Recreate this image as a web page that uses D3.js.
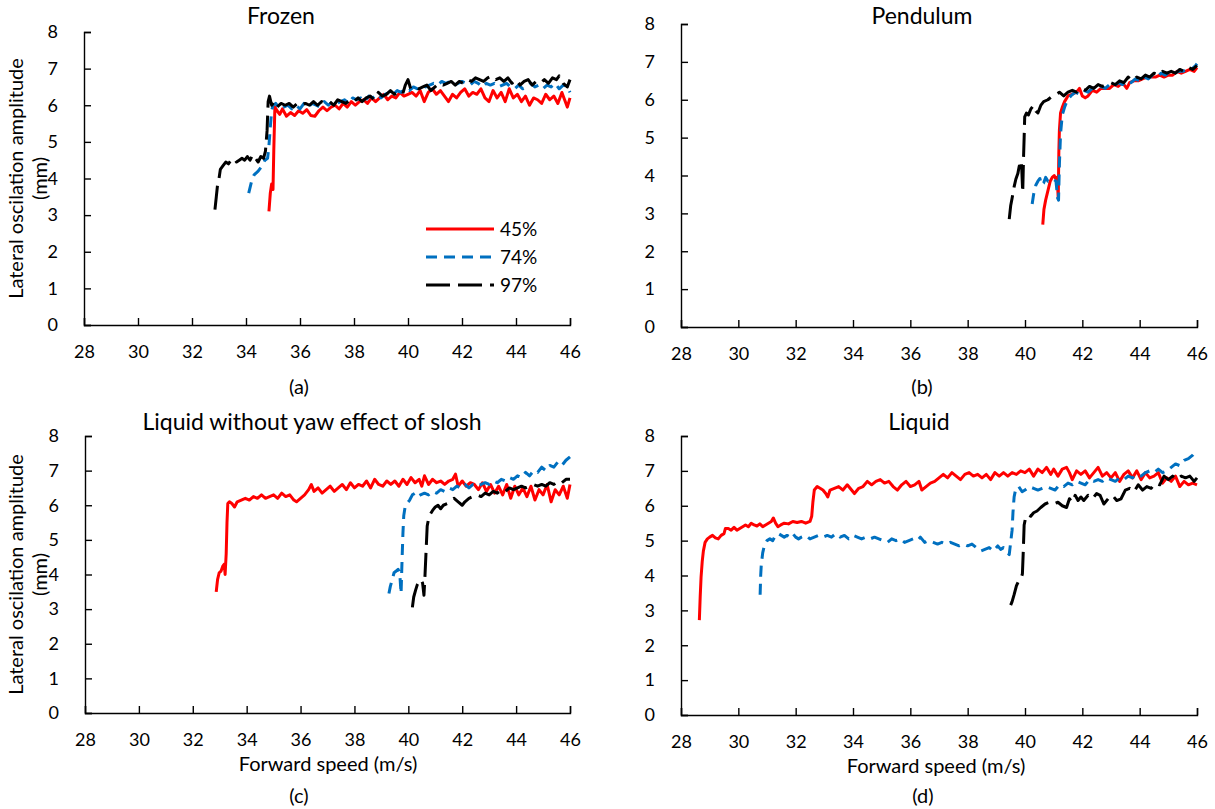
<!DOCTYPE html>
<html>
<head>
<meta charset="utf-8">
<script src="https://cdn.jsdelivr.net/npm/d3@7"></script>
<style>
  html, body { margin: 0; padding: 0; background: #fff; }
  svg { display: block; font-family: Lato, "Open Sans", sans-serif; }
</style>
</head>
<body>
<svg id="chart" width="1215" height="809"></svg>
<script>
// Fill levels shown in every panel
const fillLevels = ["45%", "74%", "97%"];
const seriesColors = ["#FF0000", "#0070C0", "#000000"];
const seriesDash = [null, "11,7", "24,8"];

const xTicks = [28, 30, 32, 34, 36, 38, 40, 42, 44, 46];
const yTicks = [0, 1, 2, 3, 4, 5, 6, 7, 8];

const panelTitles = ["Frozen", "Pendulum", "Liquid without yaw effect of slosh", "Liquid"];
const panelTags = ["(a)", "(b)", "(c)", "(d)"];
const yLabelLines = ["Lateral oscilation amplitude", "(mm)"];
const xLabel = "Forward speed (m/s)";

// [forward speed (m/s), lateral oscillation amplitude (mm)]
const frozen45 = [[34.85,3.10],[34.9,3.6],[34.95,3.85],[35.0,3.7],[35.03,4.8],[35.07,5.95],[35.15,5.85],[35.25,5.75],[35.35,5.9],[35.5,5.7],[35.65,5.8],[35.8,5.72],[35.95,5.85],[36.1,5.78],[36.25,5.88],[36.4,5.72],[36.55,5.7],[36.7,5.85],[36.85,5.95],[37.0,5.85],[37.15,5.95],[37.3,6.0],[37.45,5.9],[37.6,6.05],[37.75,5.95],[37.9,6.1],[38.05,6.0],[38.2,6.1],[38.35,6.15],[38.5,6.05],[38.65,6.2],[38.8,6.1],[38.95,6.2],[39.1,6.3],[39.25,6.15],[39.4,6.25],[39.55,6.2],[39.7,6.35],[39.85,6.25],[40.0,6.3],[40.15,6.35],[40.3,6.25],[40.45,6.4],[40.6,6.1],[40.75,6.35],[40.9,6.45],[41.05,6.3],[41.2,6.4],[41.35,6.25],[41.5,6.1],[41.65,6.3],[41.8,6.2],[41.95,6.35],[42.1,6.45],[42.25,6.25],[42.4,6.35],[42.55,6.3],[42.7,6.45],[42.85,6.2],[43.0,6.1],[43.15,6.4],[43.3,6.2],[43.45,6.35],[43.6,6.1],[43.75,6.45],[43.9,6.2],[44.05,6.3],[44.2,6.1],[44.35,6.25],[44.5,6.0],[44.65,6.2],[44.8,6.15],[44.95,6.05],[45.1,6.3],[45.25,6.15],[45.4,6.25],[45.55,6.05],[45.7,6.35],[45.8,6.15],[45.9,5.95],[46.0,6.2]];
const frozen74 = [[34.1,3.6],[34.2,3.9],[34.3,4.1],[34.45,4.2],[34.6,4.35],[34.7,4.5],[34.8,4.55],[34.85,4.9],[34.9,5.4],[34.95,5.85],[35.0,6.0],[35.1,6.05],[35.25,5.9],[35.4,5.95],[35.55,6.0],[35.7,5.9],[35.85,6.0],[36.0,5.9],[36.15,6.05],[36.3,5.95],[36.45,6.05],[36.6,6.0],[36.75,5.95],[36.9,6.1],[37.05,6.0],[37.2,6.1],[37.35,6.05],[37.5,6.1],[37.65,6.15],[37.8,6.05],[37.95,6.2],[38.1,6.15],[38.25,6.2],[38.4,6.1],[38.55,6.25],[38.7,6.2],[38.85,6.3],[39.0,6.2],[39.15,6.3],[39.3,6.35],[39.45,6.3],[39.6,6.4],[39.75,6.35],[39.9,6.45],[40.05,6.4],[40.2,6.5],[40.35,6.45],[40.5,6.55],[40.65,6.5],[40.8,6.55],[40.95,6.6],[41.1,6.55],[41.25,6.65],[41.4,6.6],[41.55,6.65],[41.7,6.55],[41.85,6.6],[42.0,6.65],[42.15,6.6],[42.3,6.55],[42.45,6.65],[42.6,6.6],[42.75,6.5],[42.9,6.6],[43.05,6.55],[43.2,6.6],[43.35,6.5],[43.5,6.55],[43.65,6.6],[43.8,6.5],[43.95,6.45],[44.1,6.55],[44.25,6.45],[44.4,6.5],[44.55,6.6],[44.7,6.5],[44.85,6.55],[45.0,6.45],[45.15,6.55],[45.3,6.5],[45.45,6.6],[45.6,6.45],[45.75,6.55],[45.9,6.5],[46.0,6.35]];
const frozen97 = [[32.85,3.15],[32.9,3.5],[32.95,3.85],[33.0,4.0],[33.05,4.25],[33.15,4.35],[33.25,4.45],[33.35,4.4],[33.45,4.5],[33.55,4.55],[33.65,4.45],[33.75,4.5],[33.85,4.55],[33.95,4.5],[34.05,4.6],[34.15,4.5],[34.25,4.65],[34.35,4.55],[34.45,4.45],[34.55,4.6],[34.65,4.55],[34.72,4.75],[34.78,5.3],[34.82,6.1],[34.87,6.25],[34.95,6.0],[35.05,6.1],[35.15,5.95],[35.3,6.05],[35.45,6.0],[35.6,6.05],[35.75,5.95],[35.9,6.05],[36.05,6.0],[36.2,6.05],[36.35,6.0],[36.5,6.1],[36.65,6.0],[36.8,6.1],[36.95,6.05],[37.1,6.1],[37.25,6.0],[37.4,6.15],[37.55,6.1],[37.7,6.05],[37.85,6.15],[38.0,6.1],[38.15,6.2],[38.3,6.1],[38.45,6.2],[38.6,6.25],[38.75,6.15],[38.9,6.35],[39.05,6.25],[39.2,6.3],[39.35,6.4],[39.5,6.3],[39.65,6.35],[39.8,6.3],[39.9,6.55],[40.0,6.7],[40.1,6.45],[40.25,6.5],[40.4,6.45],[40.55,6.5],[40.7,6.55],[40.85,6.4],[41.0,6.5],[41.15,6.6],[41.3,6.55],[41.45,6.6],[41.6,6.65],[41.75,6.55],[41.9,6.65],[42.05,6.6],[42.2,6.7],[42.35,6.65],[42.5,6.75],[42.65,6.7],[42.8,6.65],[42.95,6.75],[43.1,6.8],[43.25,6.7],[43.4,6.75],[43.55,6.65],[43.7,6.75],[43.85,6.6],[44.0,6.7],[44.15,6.55],[44.3,6.65],[44.45,6.7],[44.6,6.55],[44.75,6.65],[44.9,6.6],[45.05,6.7],[45.2,6.6],[45.35,6.75],[45.5,6.7],[45.6,6.8],[45.75,6.6],[45.9,6.5],[46.0,6.7]];

const pendulum45 = [[40.62,2.7],[40.66,3.1],[40.72,3.35],[40.8,3.6],[40.88,3.85],[40.95,3.95],[41.02,4.0],[41.08,3.9],[41.12,3.95],[41.16,3.4],[41.18,4.6],[41.2,5.2],[41.24,5.65],[41.3,5.8],[41.38,5.95],[41.5,6.1],[41.65,6.15],[41.8,6.2],[41.9,6.3],[42.0,6.1],[42.1,6.05],[42.2,6.1],[42.35,6.25],[42.5,6.2],[42.65,6.3],[42.8,6.3],[42.95,6.3],[43.1,6.4],[43.25,6.35],[43.4,6.45],[43.55,6.3],[43.65,6.45],[43.8,6.5],[43.95,6.5],[44.1,6.55],[44.25,6.6],[44.4,6.6],[44.55,6.6],[44.7,6.65],[44.85,6.6],[45.0,6.65],[45.15,6.65],[45.3,6.75],[45.45,6.7],[45.6,6.75],[45.75,6.8],[45.9,6.75],[46.0,6.85]];
const pendulum74 = [[40.25,3.25],[40.3,3.5],[40.38,3.75],[40.45,3.85],[40.52,3.92],[40.58,3.75],[40.65,3.8],[40.72,3.95],[40.8,3.85],[40.9,3.9],[41.0,3.9],[41.08,3.85],[41.14,3.4],[41.17,3.35],[41.2,4.3],[41.24,5.1],[41.3,5.6],[41.38,5.8],[41.48,6.0],[41.6,6.1],[41.75,6.2],[41.9,6.15],[42.05,6.25],[42.2,6.2],[42.35,6.3],[42.5,6.3],[42.65,6.35],[42.8,6.3],[42.95,6.4],[43.1,6.35],[43.25,6.45],[43.4,6.4],[43.55,6.5],[43.7,6.45],[43.85,6.55],[44.0,6.5],[44.15,6.6],[44.3,6.55],[44.45,6.65],[44.6,6.6],[44.75,6.7],[44.9,6.65],[45.05,6.75],[45.2,6.7],[45.35,6.75],[45.5,6.75],[45.65,6.8],[45.8,6.8],[45.95,6.9],[46.0,6.95]];
const pendulum97 = [[39.45,2.85],[39.5,3.2],[39.55,3.4],[39.62,3.7],[39.68,3.9],[39.75,4.05],[39.8,4.25],[39.85,4.15],[39.88,4.3],[39.92,3.55],[39.95,4.5],[39.97,5.0],[39.99,5.55],[40.05,5.65],[40.12,5.6],[40.2,5.75],[40.3,5.85],[40.38,5.7],[40.45,5.65],[40.55,5.85],[40.65,5.95],[40.8,6.0],[40.95,6.1],[41.1,6.15],[41.2,6.2],[41.35,6.1],[41.5,6.2],[41.65,6.25],[41.8,6.2],[41.95,6.3],[42.1,6.25],[42.25,6.35],[42.4,6.3],[42.55,6.4],[42.7,6.35],[42.85,6.4],[43.0,6.45],[43.15,6.4],[43.3,6.5],[43.45,6.45],[43.6,6.6],[43.75,6.5],[43.9,6.6],[44.05,6.55],[44.2,6.65],[44.35,6.6],[44.5,6.7],[44.65,6.65],[44.8,6.75],[44.95,6.7],[45.1,6.75],[45.25,6.7],[45.4,6.8],[45.55,6.75],[45.7,6.85],[45.85,6.8],[46.0,6.9]];

const noYaw45 = [[32.87,3.5],[32.92,3.85],[32.98,4.05],[33.05,4.1],[33.12,4.25],[33.17,4.3],[33.2,4.0],[33.24,4.6],[33.27,5.5],[33.3,6.05],[33.36,6.1],[33.45,6.05],[33.55,5.95],[33.65,6.1],[33.8,6.15],[33.95,6.2],[34.1,6.15],[34.25,6.25],[34.4,6.2],[34.55,6.3],[34.7,6.2],[34.85,6.25],[35.0,6.3],[35.15,6.2],[35.3,6.35],[35.45,6.25],[35.6,6.3],[35.75,6.15],[35.85,6.1],[36.0,6.2],[36.15,6.3],[36.3,6.45],[36.4,6.6],[36.5,6.4],[36.65,6.5],[36.8,6.35],[36.95,6.45],[37.1,6.55],[37.25,6.4],[37.4,6.5],[37.55,6.6],[37.7,6.45],[37.85,6.65],[38.0,6.5],[38.15,6.6],[38.3,6.55],[38.45,6.7],[38.6,6.5],[38.75,6.75],[38.9,6.6],[39.05,6.55],[39.2,6.7],[39.35,6.6],[39.5,6.7],[39.65,6.55],[39.8,6.75],[39.95,6.6],[40.1,6.8],[40.25,6.65],[40.4,6.75],[40.5,6.55],[40.6,6.85],[40.75,6.6],[40.9,6.75],[41.05,6.65],[41.2,6.7],[41.35,6.6],[41.5,6.7],[41.65,6.75],[41.75,6.9],[41.85,6.55],[42.0,6.7],[42.15,6.55],[42.3,6.65],[42.45,6.6],[42.6,6.45],[42.75,6.65],[42.9,6.4],[43.05,6.6],[43.2,6.35],[43.35,6.55],[43.5,6.3],[43.65,6.6],[43.8,6.2],[43.95,6.55],[44.1,6.3],[44.25,6.5],[44.4,6.25],[44.55,6.55],[44.7,6.15],[44.85,6.45],[45.0,6.3],[45.15,6.6],[45.3,6.1],[45.45,6.45],[45.6,6.3],[45.75,6.55],[45.9,6.2],[46.0,6.6]];
const noYaw74 = [[39.28,3.45],[39.33,3.65],[39.4,3.85],[39.47,4.05],[39.55,4.1],[39.62,4.15],[39.68,4.05],[39.73,3.45],[39.77,4.5],[39.8,5.2],[39.83,5.7],[39.88,5.95],[39.95,6.05],[40.05,6.15],[40.15,6.3],[40.25,6.35],[40.35,6.25],[40.45,6.3],[40.6,6.35],[40.75,6.3],[40.9,6.4],[41.05,6.35],[41.2,6.45],[41.35,6.4],[41.5,6.5],[41.65,6.45],[41.8,6.55],[41.95,6.5],[42.1,6.6],[42.25,6.5],[42.4,6.6],[42.55,6.55],[42.7,6.6],[42.85,6.65],[43.0,6.6],[43.15,6.7],[43.3,6.65],[43.45,6.75],[43.6,6.7],[43.75,6.8],[43.9,6.75],[44.05,6.85],[44.2,6.8],[44.35,6.95],[44.5,6.85],[44.65,7.0],[44.8,6.95],[44.95,7.1],[45.1,7.0],[45.25,7.15],[45.4,7.1],[45.55,7.25],[45.7,7.15],[45.85,7.3],[46.0,7.4]];
const noYaw97 = [[40.15,3.05],[40.2,3.35],[40.27,3.55],[40.33,3.7],[40.4,3.8],[40.47,3.85],[40.53,3.75],[40.58,3.4],[40.62,4.0],[40.66,4.7],[40.7,5.4],[40.75,5.6],[40.82,5.75],[40.9,5.85],[41.0,5.95],[41.1,6.0],[41.2,5.9],[41.3,6.0],[41.45,6.05],[41.6,6.15],[41.7,6.2],[41.85,6.1],[42.0,6.0],[42.1,6.1],[42.25,6.2],[42.4,6.25],[42.55,6.3],[42.7,6.25],[42.85,6.35],[43.0,6.3],[43.15,6.4],[43.3,6.35],[43.45,6.45],[43.6,6.4],[43.75,6.5],[43.9,6.45],[44.05,6.5],[44.2,6.55],[44.35,6.5],[44.5,6.55],[44.65,6.6],[44.8,6.55],[44.95,6.6],[45.1,6.55],[45.25,6.65],[45.4,6.6],[45.55,6.7],[45.7,6.65],[45.85,6.75],[46.0,6.75]];

const liquid45 = [[28.64,2.72],[28.67,3.4],[28.7,3.95],[28.74,4.4],[28.78,4.7],[28.84,4.95],[28.92,5.05],[29.0,5.1],[29.1,5.15],[29.2,5.08],[29.3,5.05],[29.4,5.15],[29.5,5.2],[29.55,5.35],[29.65,5.35],[29.75,5.3],[29.85,5.38],[29.95,5.3],[30.05,5.35],[30.15,5.4],[30.25,5.45],[30.35,5.4],[30.45,5.5],[30.55,5.45],[30.65,5.42],[30.75,5.48],[30.85,5.4],[30.95,5.45],[31.05,5.5],[31.15,5.55],[31.22,5.65],[31.3,5.5],[31.38,5.4],[31.48,5.45],[31.6,5.5],[31.75,5.48],[31.9,5.55],[32.05,5.52],[32.2,5.55],[32.35,5.5],[32.5,5.55],[32.56,5.7],[32.6,6.1],[32.65,6.45],[32.75,6.55],[32.85,6.5],[32.95,6.45],[33.05,6.35],[33.12,6.25],[33.2,6.45],[33.35,6.5],[33.5,6.55],[33.65,6.45],[33.8,6.6],[33.95,6.45],[34.05,6.35],[34.2,6.5],[34.35,6.55],[34.5,6.7],[34.65,6.6],[34.8,6.7],[34.95,6.75],[35.1,6.65],[35.25,6.7],[35.4,6.55],[35.55,6.45],[35.7,6.6],[35.85,6.7],[36.0,6.55],[36.15,6.6],[36.3,6.7],[36.4,6.45],[36.55,6.55],[36.7,6.65],[36.85,6.7],[37.0,6.8],[37.15,6.9],[37.3,6.8],[37.45,6.95],[37.6,6.85],[37.75,6.75],[37.9,6.9],[38.05,6.95],[38.2,6.85],[38.35,6.9],[38.5,6.8],[38.65,6.9],[38.8,6.75],[38.95,6.95],[39.1,6.85],[39.25,6.95],[39.4,6.85],[39.55,6.95],[39.7,6.9],[39.85,7.0],[40.0,6.95],[40.15,7.05],[40.3,6.85],[40.45,7.05],[40.6,6.95],[40.75,7.1],[40.9,6.9],[41.0,7.05],[41.15,6.85],[41.3,7.05],[41.45,7.1],[41.55,6.95],[41.65,6.75],[41.8,7.0],[41.95,6.9],[42.1,7.0],[42.25,6.8],[42.4,6.95],[42.55,7.1],[42.7,6.85],[42.85,6.95],[43.0,6.8],[43.15,6.95],[43.3,6.7],[43.45,6.9],[43.6,7.0],[43.75,6.8],[43.9,7.0],[44.05,6.75],[44.2,6.95],[44.35,6.8],[44.5,6.85],[44.65,6.95],[44.8,6.65],[44.95,6.8],[45.1,6.7],[45.25,6.85],[45.4,6.55],[45.55,6.7],[45.7,6.6],[45.85,6.65],[46.0,6.6]];
const liquid74 = [[30.76,3.45],[30.78,4.0],[30.8,4.3],[30.85,4.65],[30.92,4.9],[31.0,5.0],[31.1,5.05],[31.2,5.0],[31.3,5.15],[31.4,5.2],[31.5,5.15],[31.6,5.1],[31.7,5.15],[31.8,5.1],[31.9,5.2],[32.0,5.1],[32.1,5.05],[32.2,5.1],[32.35,5.15],[32.5,5.05],[32.65,5.1],[32.8,5.15],[32.95,5.1],[33.1,5.15],[33.25,5.1],[33.4,5.2],[33.55,5.1],[33.7,5.15],[33.85,5.05],[34.0,5.15],[34.15,5.1],[34.3,5.05],[34.45,5.1],[34.6,5.05],[34.75,5.1],[34.9,5.05],[35.05,5.0],[35.2,4.95],[35.35,5.05],[35.5,5.0],[35.65,5.05],[35.8,4.95],[35.95,5.0],[36.1,5.05],[36.25,5.0],[36.35,5.1],[36.5,4.95],[36.65,5.0],[36.8,4.95],[36.95,4.9],[37.1,4.95],[37.25,4.9],[37.4,4.95],[37.55,4.9],[37.7,4.85],[37.85,4.9],[38.0,4.85],[38.15,4.9],[38.3,4.8],[38.45,4.7],[38.6,4.75],[38.75,4.8],[38.9,4.7],[39.05,4.85],[39.15,4.75],[39.25,4.8],[39.35,4.7],[39.45,4.6],[39.5,4.95],[39.55,5.3],[39.58,5.8],[39.62,6.25],[39.68,6.5],[39.78,6.55],[39.9,6.4],[40.0,6.45],[40.15,6.55],[40.3,6.5],[40.45,6.45],[40.6,6.5],[40.75,6.55],[40.9,6.5],[41.05,6.45],[41.2,6.6],[41.35,6.55],[41.5,6.65],[41.65,6.6],[41.8,6.7],[41.95,6.65],[42.1,6.6],[42.25,6.75],[42.4,6.7],[42.55,6.75],[42.7,6.7],[42.85,6.8],[43.0,6.75],[43.15,6.7],[43.3,6.8],[43.45,6.75],[43.6,6.85],[43.75,6.8],[43.9,6.9],[44.05,6.85],[44.2,6.95],[44.35,7.0],[44.5,6.95],[44.65,7.05],[44.8,6.95],[44.95,7.0],[45.1,7.1],[45.25,7.2],[45.4,7.15],[45.55,7.3],[45.7,7.35],[45.85,7.45],[46.0,7.6]];
const liquid97 = [[39.5,3.15],[39.55,3.25],[39.62,3.45],[39.7,3.7],[39.78,3.85],[39.86,3.9],[39.91,4.05],[39.94,4.7],[39.97,5.45],[40.02,5.65],[40.1,5.75],[40.2,5.7],[40.3,5.8],[40.42,5.85],[40.55,5.95],[40.7,6.05],[40.85,6.1],[41.0,6.05],[41.15,6.1],[41.3,6.0],[41.45,5.95],[41.55,6.2],[41.65,6.1],[41.75,6.3],[41.85,6.15],[41.95,6.25],[42.05,6.15],[42.2,6.3],[42.35,6.2],[42.5,6.35],[42.62,6.3],[42.75,6.05],[42.9,6.2],[43.05,6.3],[43.2,6.15],[43.35,6.2],[43.5,6.45],[43.65,6.5],[43.8,6.4],[43.95,6.6],[44.1,6.45],[44.25,6.55],[44.4,6.5],[44.55,6.65],[44.7,6.6],[44.85,6.85],[45.0,6.75],[45.15,6.85],[45.3,6.75],[45.45,6.85],[45.6,6.8],[45.75,6.85],[45.9,6.7],[46.0,6.8]];

const panelSeries = [
  [frozen45, frozen74, frozen97],
  [pendulum45, pendulum74, pendulum97],
  [noYaw45, noYaw74, noYaw97],
  [liquid45, liquid74, liquid97]
];

// Plot frames and text placement for the 2x2 layout
const frames = [
  { left: 84, right: 570, top: 32, bottom: 325, titleX: 281, titleY: 24, tagX: 299, tagY: 394, yLabel: true, xLabel: false, legend: true },
  { left: 681, right: 1197, top: 24, bottom: 327, titleX: 922, titleY: 24, tagX: 922, tagY: 394, yLabel: false, xLabel: false, legend: false },
  { left: 85, right: 570, top: 436, bottom: 713, titleX: 312, titleY: 430, tagX: 299, tagY: 803, yLabel: true, xLabel: true, xLabelX: 328, legend: false },
  { left: 681, right: 1197, top: 436, bottom: 715, titleX: 919, titleY: 430, tagX: 923, tagY: 803, yLabel: false, xLabel: true, xLabelX: 936, legend: false }
];

const svg = d3.select("#chart");
svg.append("rect").attr("width", 1215).attr("height", 809).attr("fill", "#fff");

frames.forEach((f, i) => {
  const x = d3.scaleLinear().domain([28, 46]).range([f.left, f.right]);
  const y = d3.scaleLinear().domain([0, 8]).range([f.bottom, f.top]);
  const g = svg.append("g");

  // y axis: ticks point into the plot
  const yAxis = d3.axisLeft(y).tickValues(yTicks).tickSize(-7).tickPadding(26).tickFormat(d3.format("d"));
  const ya = g.append("g").attr("transform", `translate(${f.left},0)`).call(yAxis);
  ya.select(".domain").attr("stroke", "#000").attr("stroke-width", 1.4);
  ya.selectAll(".tick line").attr("stroke", "#000").attr("stroke-width", 1.4);
  ya.selectAll(".tick text").attr("font-size", 18).attr("fill", "#000").attr("font-family", "Lato, sans-serif");

  // x axis: ticks point up into the plot
  const xAxis = d3.axisBottom(x).tickValues(xTicks).tickSize(-7).tickPadding(20.5).tickFormat(d3.format("d"));
  const xa = g.append("g").attr("transform", `translate(0,${f.bottom})`).call(xAxis);
  xa.select(".domain").attr("stroke", "#000").attr("stroke-width", 1.4);
  xa.selectAll(".tick line").attr("stroke", "#000").attr("stroke-width", 1.4);
  xa.selectAll(".tick text").attr("font-size", 18).attr("fill", "#000").attr("font-family", "Lato, sans-serif");

  // data lines
  const line = d3.line().x(d => x(d[0])).y(d => y(d[1])).curve(d3.curveLinear);
  panelSeries[i].forEach((s, k) => {
    g.append("path")
      .datum(s)
      .attr("d", line)
      .attr("fill", "none")
      .attr("stroke", seriesColors[k])
      .attr("stroke-width", 3)
      .attr("stroke-linejoin", "round")
      .attr("stroke-dasharray", seriesDash[k]);
  });

  // panel title
  g.append("text").attr("x", f.titleX).attr("y", f.titleY)
    .attr("text-anchor", "middle").attr("font-size", 23).attr("fill", "#000")
    .text(panelTitles[i]);

  // panel tag below
  g.append("text").attr("x", f.tagX).attr("y", f.tagY)
    .attr("text-anchor", "middle").attr("font-size", 20).attr("fill", "#000")
    .text(panelTags[i]);

  if (f.yLabel) {
    const cy = (f.top + f.bottom) / 2;
    yLabelLines.forEach((t, j) => {
      g.append("text")
        .attr("transform", `translate(${23 + j * 24},${cy}) rotate(-90)`)
        .attr("text-anchor", "middle").attr("font-size", 20).attr("fill", "#000")
        .text(t);
    });
  }

  if (f.xLabel) {
    g.append("text").attr("x", f.xLabelX).attr("y", f.bottom + 58)
      .attr("text-anchor", "middle").attr("font-size", 20).attr("fill", "#000")
      .text(xLabel);
  }

  if (f.legend) {
    const lg = g.append("g");
    const rows = [229, 257, 285];
    fillLevels.forEach((name, k) => {
      lg.append("line")
        .attr("x1", 426).attr("x2", 494)
        .attr("y1", rows[k]).attr("y2", rows[k])
        .attr("stroke", seriesColors[k])
        .attr("stroke-width", 3)
        .attr("stroke-dasharray", seriesDash[k]);
      lg.append("text").attr("x", 500).attr("y", rows[k] + 7)
        .attr("font-size", 19).attr("fill", "#000")
        .text(name);
    });
  }
});
</script>
</body>
</html>
